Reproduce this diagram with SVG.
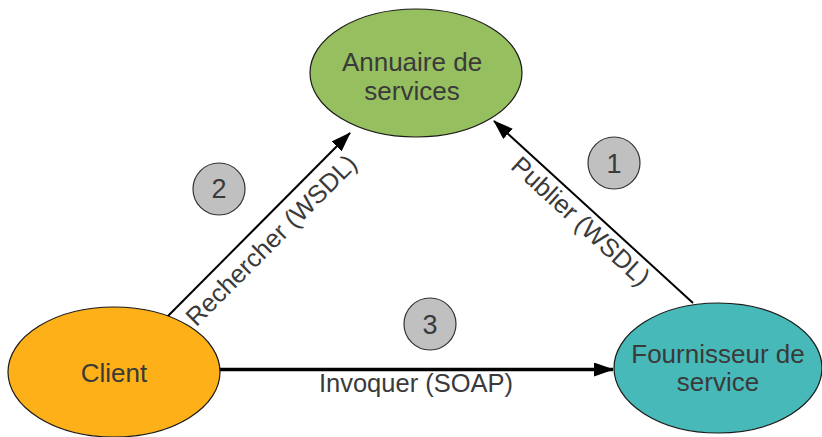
<svg xmlns="http://www.w3.org/2000/svg" width="822" height="437" viewBox="0 0 822 437">
  <style>
    .node { stroke: #1a1a1a; stroke-width: 1.2; }
    .label { font-family: "Liberation Sans", Arial, sans-serif; fill: #3a3a3a; text-anchor: middle; }
    .ntext { font-size: 26px; }
    .etext { font-size: 25.5px; }
    .dtext { font-size: 27px; }
    .step { fill: #c0c0c0; stroke: #333; stroke-width: 1.2; }
    .edge { stroke: #000; fill: none; }
  </style>
  <defs>
    <marker id="arrowBig" markerWidth="20" markerHeight="14" refX="19" refY="7" orient="auto" markerUnits="userSpaceOnUse" viewBox="0 0 20 14">
      <path d="M0,0 L20,7 L0,14 Z" fill="#000"/>
    </marker>
  </defs>

  <g id="connectors">
    <line class="edge" x1="167" y1="317" x2="350" y2="133" stroke-width="2" marker-end="url(#arrowBig)"/>
    <line class="edge" x1="693" y1="303" x2="494" y2="121" stroke-width="2" marker-end="url(#arrowBig)"/>
    <line class="edge" x1="219" y1="369.5" x2="613" y2="369.5" stroke-width="3.3" marker-end="url(#arrowBig)"/>
    <text class="label etext" transform="translate(271,240) rotate(-45)" x="0" y="9">Rechercher (WSDL)</text>
    <text class="label etext" transform="translate(581,221) rotate(42.5)" x="0" y="9">Publier (WSDL)</text>
    <text class="label etext" x="416" y="391.5">Invoquer (SOAP)</text>
  </g>

  <g id="annuaire">
    <ellipse class="node" cx="416" cy="73" rx="106" ry="64" fill="#96bf5f"/>
    <text class="label ntext" x="412" y="71">Annuaire de</text>
    <text class="label ntext" x="412" y="99.5">services</text>
  </g>

  <g id="client">
    <ellipse class="node" cx="114" cy="372" rx="106" ry="65" fill="#fdb017"/>
    <text class="label ntext" x="114" y="381.5">Client</text>
  </g>

  <g id="fournisseur">
    <ellipse class="node" cx="718" cy="368" rx="104" ry="65" fill="#47b9b8"/>
    <text class="label ntext" x="718" y="362.5">Fournisseur de</text>
    <text class="label ntext" x="718" y="391">service</text>
  </g>

  <g id="step1">
    <circle class="step" cx="614" cy="163" r="26"/>
    <text class="label dtext" x="614" y="173">1</text>
  </g>
  <g id="step2">
    <circle class="step" cx="219" cy="189" r="26"/>
    <text class="label dtext" x="219" y="197.5">2</text>
  </g>
  <g id="step3">
    <circle class="step" cx="430" cy="324" r="26"/>
    <text class="label dtext" x="430" y="333.5">3</text>
  </g>
</svg>
